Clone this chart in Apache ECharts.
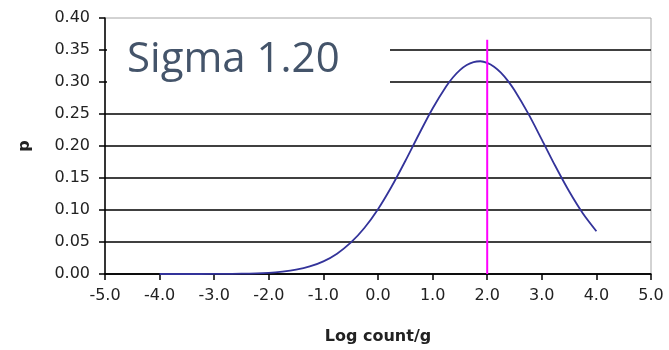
<!DOCTYPE html>
<html>
<head>
<meta charset="utf-8">
<script src="https://cdn.jsdelivr.net/npm/echarts@6/dist/echarts.min.js"></script>
<style>
  html, body { margin: 0; padding: 0; background: #fff; }
  #chart { width: 669px; height: 350px; }
</style>
</head>
<body>
<div id="chart"></div>
<script>
// values
var logCount = [-4.0, -3.5, -3.0, -2.5, -2.0, -1.75, -1.5, -1.25, -1.0, -0.75, -0.5, -0.25,
                0.0, 0.25, 0.5, 0.75, 1.0, 1.25, 1.375, 1.5, 1.625, 1.75, 1.875, 2.0, 2.125, 2.25, 2.375, 2.5, 2.75,
                3.0, 3.25, 3.5, 3.75, 4.0];
var prob = [0.000, 0.000, 0.0001, 0.0005, 0.0019, 0.0037, 0.0067, 0.0118, 0.0198, 0.0318, 0.0489, 0.0719,
            0.1013, 0.1367, 0.1765, 0.2184, 0.2586, 0.2933, 0.3074, 0.3186, 0.3266, 0.3312, 0.3324, 0.3298, 0.3238, 0.3145, 0.3021, 0.2871, 0.2509,
            0.2100, 0.1683, 0.1292, 0.0949, 0.0668];
var markerX = [2.0, 2.0];
var markerP = [0.0, 0.366];
var sigmaLabel = 'Sigma 1.20';

var myChart = echarts.init(document.getElementById('chart'));

var curve = logCount.map(function (x, i) { return [x, prob[i]]; });
var marker = markerX.map(function (x, i) { return [x, markerP[i]]; });

var labelFont = 'DejaVu Sans';

var option = {
    animation: false,
    grid: {
        left: 105, right: 18, top: 18, bottom: 73,
        show: true,
        borderColor: '#a6a6a6',
        borderWidth: 1
    },
    xAxis: {
        type: 'value',
        min: -5, max: 5, interval: 1,
        name: 'Log count/g',
        nameLocation: 'middle',
        nameGap: 55,
        nameTextStyle: { fontFamily: labelFont, fontSize: 16, fontWeight: 'bold', color: '#222' },
        axisLine: { show: true, onZero: false, lineStyle: { color: '#000', width: 1.5 } },
        axisTick: { show: true, inside: false, length: 6, lineStyle: { color: '#000', width: 1.5, opacity: 1 } },
        axisLabel: {
            margin: 14,
            fontFamily: labelFont, fontSize: 16, color: '#222',
            formatter: function (v) { return v.toFixed(1); }
        },
        splitLine: { show: false }
    },
    yAxis: {
        type: 'value',
        min: 0, max: 0.4, interval: 0.05,
        name: 'p',
        nameLocation: 'middle',
        nameGap: 72,
        nameTextStyle: { fontFamily: labelFont, fontSize: 16, fontWeight: 'bold', color: '#222' },
        axisLine: { show: true, onZero: false, lineStyle: { color: '#000', width: 1.5 } },
        axisTick: { show: true, inside: false, length: 6, lineStyle: { color: '#000', width: 1.5 } },
        axisLabel: {
            margin: 15,
            fontFamily: labelFont, fontSize: 16, color: '#222',
            formatter: function (v) { return v.toFixed(2); }
        },
        splitLine: { show: true, showMaxLine: false, lineStyle: { color: '#000', width: 1.5 } }
    },
    series: [
        {
            name: 'p',
            type: 'line',
            data: curve,
            smooth: 0.3,
            showSymbol: false,
            lineStyle: { color: '#33339a', width: 1.8 },
            z: 3
        },
        {
            name: 'marker',
            type: 'line',
            data: marker,
            showSymbol: false,
            lineStyle: { color: '#ff00ff', width: 2 },
            z: 4
        }
    ],
    graphic: [
        {
            type: 'rect',
            z: 100,
            shape: { x: 107, y: 20, width: 283, height: 90 },
            style: { fill: '#fff' }
        },
        {
            type: 'text',
            z: 101,
            style: {
                x: 127, y: 60,
                text: sigmaLabel,
                font: '42px "Open Sans"',
                fill: '#44546a',
                verticalAlign: 'middle'
            }
        }
    ]
};

myChart.setOption(option);
</script>
</body>
</html>
